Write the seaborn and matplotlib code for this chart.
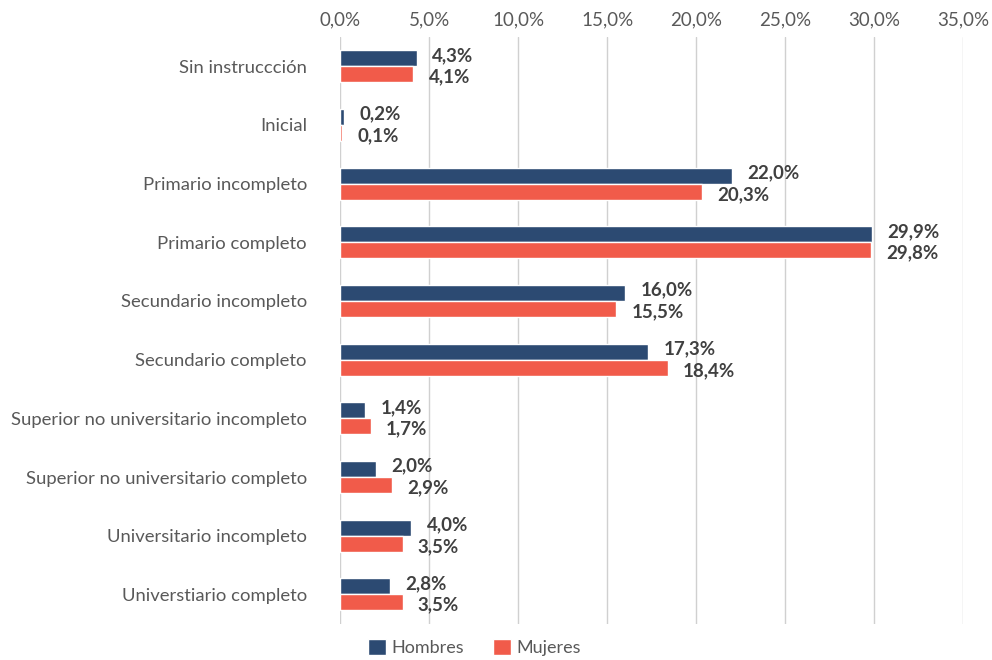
import pandas as pd
import numpy as np
import seaborn as sns
import matplotlib.pyplot as plt
from matplotlib.ticker import FuncFormatter

categories = ["Sin instruccción", "Inicial", "Primario incompleto", "Primario completo",
              "Secundario incompleto", "Secundario completo",
              "Superior no universitario incompleto", "Superior no universitario completo",
              "Universitario incompleto", "Universtiario completo"]
hombres = [4.3, 0.2, 22.0, 29.9, 16.0, 17.3, 1.4, 2.0, 4.0, 2.8]
mujeres = [4.1, 0.1, 20.3, 29.8, 15.5, 18.4, 1.7, 2.9, 3.5, 3.5]
series = ["Hombres", "Mujeres"]
colors = ["#2C4A72", "#F15B4A"]

df = pd.DataFrame({
    "nivel": categories * 2,
    "valor": hombres + mujeres,
    "sexo": [series[0]] * len(categories) + [series[1]] * len(categories),
})

sns.set_style("white")
plt.rcParams['font.family'] = ['Lato', 'DejaVu Sans']

fig = plt.figure(figsize=(9.92, 6.6), dpi=100)
ax = fig.add_axes([0.343, 0.055, 0.628, 0.889])

sns.barplot(data=df, y="nivel", x="valor", hue="sexo", palette=colors,
            order=categories, hue_order=series, orient="h", width=0.55, gap=0,
            saturation=1, ax=ax, legend=True)

# push the two labels of a group slightly apart, like the original
for cont, dy in zip(ax.containers, [2, -2]):
    for bar in cont:
        w = bar.get_width()
        ax.annotate(f"{w:.1f}%".replace(".", ","),
                    (w, bar.get_y() + bar.get_height() / 2),
                    xytext=(11, dy), textcoords="offset points",
                    ha="left", va="center", fontsize=13.5, fontweight="bold",
                    color="#404040")

ax.set_xlim(0, 35)
ax.set_xticks(np.arange(0, 36, 5))
ax.xaxis.set_major_formatter(FuncFormatter(lambda v, p: f"{v:.1f}%".replace(".", ",")))
ax.xaxis.tick_top()
ax.tick_params(axis="x", length=0, labelsize=13.5, labelcolor="#595959", pad=6)
ax.tick_params(axis="y", length=0, labelsize=13.3, labelcolor="#595959", pad=24)
ax.set_xlabel("")
ax.set_ylabel("")
ax.grid(axis="x", color="#D0D0D0", linewidth=1)
ax.set_axisbelow(True)
for s in ax.spines.values():
    s.set_visible(False)

ax.legend(loc="upper center", bbox_to_anchor=(0.215, -0.004), ncol=2, frameon=False,
          fontsize=13, handlelength=1.0, handleheight=1.0, columnspacing=1.6,
          handletextpad=0.3, labelcolor="#595959", borderaxespad=0.3)

fig.savefig("out.png", dpi=100)
